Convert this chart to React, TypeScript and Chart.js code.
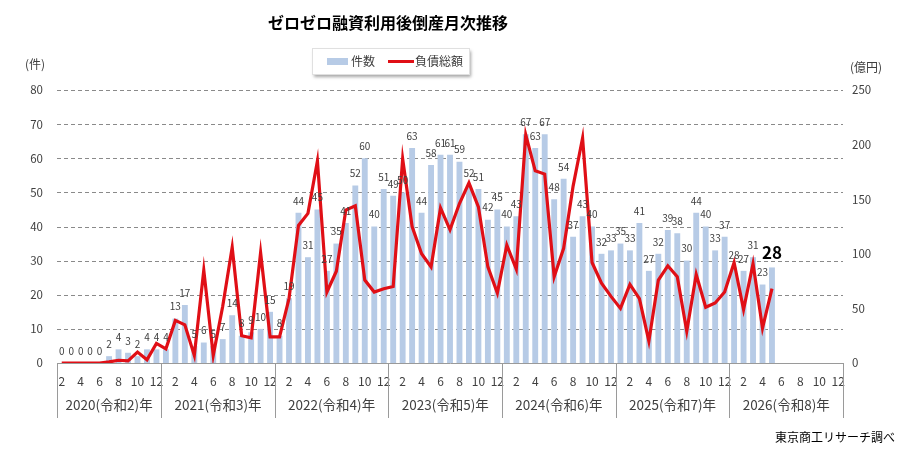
import React, { useEffect, useRef } from 'react';
import { Chart, registerables } from 'chart.js';

Chart.register(...registerables);

// ---- data ----
const TITLE = 'ゼロゼロ融資利用後倒産月次推移';
const years = ['2020(令和2)年', '2021(令和3)年', '2022(令和4)年', '2023(令和5)年', '2024(令和6)年', '2025(令和7)年', '2026(令和8)年'];
const firstMonthOfYear = [2, 1, 1, 1, 1, 1, 1];

// 件数 (bars, left axis)
const count2020 = [0, 0, 0, 0, 0, 2, 4, 3, 2, 4, 4];
const count2021 = [4, 13, 17, 5, 6, 5, 7, 14, 8, 9, 10, 15];
const count2022 = [8, 19, 44, 31, 45, 27, 35, 41, 52, 60, 40, 51];
const count2023 = [49, 50, 63, 44, 58, 61, 61, 59, 52, 51, 42, 45];
const count2024 = [40, 43, 67, 63, 67, 48, 54, 37, 43, 40, 32, 33];
const count2025 = [35, 33, 41, 27, 32, 39, 38, 30, 44, 40, 33, 37];
const count2026 = [28, 27, 31, 23, 28, null, null, null, null, null, null, null];

// 負債総額 (line, right axis, 億円)
const debt2020 = [0, 0, 0, 0, 0, 1, 2.5, 2, 10, 3, 18];
const debt2021 = [13, 39, 35, 7, 85, 7, 52, 106, 25, 23, 101, 24];
const debt2022 = [24, 59, 126, 137, 185, 65, 84, 140, 144, 76, 65, 68];
const debt2023 = [70, 187, 125, 100, 88, 142, 122, 146, 165, 143, 88, 64];
const debt2024 = [108, 86, 209, 176, 173, 79, 105, 162, 206, 92, 73, 61];
const debt2025 = [50, 72, 59, 20, 76, 89, 79, 29, 81, 51, 55, 65];
const debt2026 = [92, 49, 91, 32, 68, null, null, null, null, null, null, null];

const leftTicks = [0, 10, 20, 30, 40, 50, 60, 70, 80];
const rightTicks = [0, 50, 100, 150, 200, 250];
const LEFT_UNIT = '(件)';
const RIGHT_UNIT = '(億円)';
const BAR_LABEL = '件数';
const LINE_LABEL = '負債総額';
const SOURCE = '東京商工リサーチ調べ';

const BAR_COLOR = '#b7cbe6';
const LINE_COLOR = '#e00f16';
const TEXT = '#404040';
const FONT = '"Noto Sans CJK JP", "Noto Sans", sans-serif';

const counts = [...count2020, ...count2021, ...count2022, ...count2023, ...count2024, ...count2025, ...count2026];
const debts = [...debt2020, ...debt2021, ...debt2022, ...debt2023, ...debt2024, ...debt2025, ...debt2026];

// categories: month numbers, grouped by year
const yearMonths: number[][] = years.map((_, yi) => {
  const arr: number[] = [];
  for (let m = firstMonthOfYear[yi]; m <= 12; m++) arr.push(m);
  return arr;
});
const categories: string[] = [];
yearMonths.forEach((ms, yi) => ms.forEach((m) => categories.push(years[yi].slice(0, 4) + '-' + m)));
const monthOf = (i: number) => Number(categories[i].split('-')[1]);

const overlayPlugin = {
  id: 'overlay',
  beforeDatasetsDraw(chart: any) {
    const ctx = chart.ctx as CanvasRenderingContext2D;
    const y = chart.scales.y;
    const area = chart.chartArea;
    ctx.save();
    ctx.strokeStyle = '#8a8a8a';
    ctx.lineWidth = 1;
    leftTicks.forEach((v) => {
      if (v === 0) return;
      const py = Math.round(y.getPixelForValue(v)) + 0.5;
      ctx.setLineDash([4, 3]);
      ctx.beginPath();
      ctx.moveTo(area.left, py);
      ctx.lineTo(area.right, py);
      ctx.stroke();
    });
    ctx.restore();
  },
  afterDraw(chart: any) {
    const ctx = chart.ctx as CanvasRenderingContext2D;
    const x = chart.scales.x;
    const area = chart.chartArea;
    const n = categories.length;
    const w = (x.right - x.left) / n;
    ctx.save();

    // title
    ctx.fillStyle = '#000';
    ctx.font = `bold 16px ${FONT}`;
    ctx.textAlign = 'center';
    ctx.textBaseline = 'middle';
    ctx.fillText(TITLE, 388, 23);

    // legend box
    ctx.save();
    ctx.shadowColor = 'rgba(0,0,0,0.35)';
    ctx.shadowOffsetX = 2;
    ctx.shadowOffsetY = 3;
    ctx.shadowBlur = 3;
    ctx.fillStyle = '#fff';
    ctx.fillRect(312, 48, 157, 26);
    ctx.restore();
    ctx.strokeStyle = '#e0e0e0';
    ctx.lineWidth = 1;
    ctx.strokeRect(312.5, 48.5, 157, 26);
    ctx.fillStyle = BAR_COLOR;
    ctx.fillRect(327, 58, 21, 7);
    ctx.strokeStyle = LINE_COLOR;
    ctx.lineWidth = 3;
    ctx.beginPath();
    ctx.moveTo(388, 61.5);
    ctx.lineTo(414, 61.5);
    ctx.stroke();
    ctx.fillStyle = TEXT;
    ctx.font = `12px ${FONT}`;
    ctx.textAlign = 'left';
    ctx.fillText(BAR_LABEL, 351, 61);
    ctx.fillText(LINE_LABEL, 415, 61);

    // axis units
    ctx.font = `12px ${FONT}`;
    ctx.textAlign = 'left';
    ctx.fillText(LEFT_UNIT, 25, 64);
    ctx.fillText(RIGHT_UNIT, 850, 67);

    // year dividers + labels
    ctx.strokeStyle = '#9a9a9a';
    ctx.lineWidth = 1;
    let start = 0;
    ctx.font = `13.5px ${FONT}`;
    ctx.textAlign = 'center';
    ctx.fillStyle = TEXT;
    yearMonths.forEach((ms, yi) => {
      const x0 = x.getPixelForValue(start) - w / 2;
      const x1 = x.getPixelForValue(start + ms.length - 1) + w / 2;
      ctx.beginPath();
      ctx.moveTo(Math.round(x0) + 0.5, area.bottom);
      ctx.lineTo(Math.round(x0) + 0.5, area.bottom + 55);
      ctx.stroke();
      if (yi === yearMonths.length - 1) {
        ctx.beginPath();
        ctx.moveTo(Math.round(x1) + 0.5, area.bottom);
        ctx.lineTo(Math.round(x1) + 0.5, area.bottom + 55);
        ctx.stroke();
      }
      ctx.fillText(years[yi], (x0 + x1) / 2, area.bottom + 42);
      start += ms.length;
    });

    // source
    ctx.font = `12px ${FONT}`;
    ctx.textAlign = 'right';
    ctx.fillStyle = '#000';
    ctx.fillText(SOURCE, 895, 437);
    ctx.restore();
  },
  afterDatasetsDraw(chart: any) {
    const ctx = chart.ctx as CanvasRenderingContext2D;
    const meta = chart.getDatasetMeta(0);
    let last = -1;
    counts.forEach((v, i) => { if (v !== null) last = i; });
    ctx.save();
    ctx.textAlign = 'center';
    ctx.textBaseline = 'middle';
    meta.data.forEach((el: any, i: number) => {
      const v = counts[i];
      if (v === null || v === undefined) return;
      if (i === last) {
        ctx.font = `bold 17px ${FONT}`;
        ctx.fillStyle = '#000';
        ctx.fillText(String(v), el.x, el.y - 15);
      } else {
        ctx.font = `10px ${FONT}`;
        ctx.fillStyle = TEXT;
        ctx.fillText(String(v), el.x, el.y - 12);
      }
    });
    ctx.restore();
  },
};

export default function App() {
  const ref = useRef<HTMLCanvasElement | null>(null);
  useEffect(() => {
    if (!ref.current) return;
    const chart = new Chart(ref.current, {
      type: 'bar',
      data: {
        labels: categories,
        datasets: [
          {
            type: 'bar',
            label: BAR_LABEL,
            data: counts as any,
            backgroundColor: BAR_COLOR,
            yAxisID: 'y',
            barPercentage: 0.62,
            categoryPercentage: 1,
            order: 2,
          },
          {
            type: 'line',
            label: LINE_LABEL,
            data: debts as any,
            borderColor: LINE_COLOR,
            borderWidth: 3.2,
            pointRadius: 0,
            tension: 0,
            yAxisID: 'y1',
            order: 1,
          } as any,
        ],
      },
      options: {
        animation: false,
        responsive: false,
        layout: { padding: { top: 90, left: 0, right: 0, bottom: 0 } },
        plugins: {
          legend: { display: false },
          title: { display: false },
          tooltip: { enabled: false },
        },
        scales: {
          x: {
            offset: true,
            grid: { display: false },
            border: { display: true, color: '#9a9a9a' },
            ticks: {
              autoSkip: false,
              maxRotation: 0,
              minRotation: 0,
              padding: 3,
              color: TEXT,
              font: { family: FONT, size: 12 },
              callback: (_v: any, i: number) => (monthOf(i) % 2 === 0 ? String(monthOf(i)) : ''),
            },
            afterFit: (s: any) => { s.height = 92; },
          },
          y: {
            position: 'left',
            min: 0,
            max: 80,
            afterBuildTicks: (s: any) => { s.ticks = leftTicks.map((v) => ({ value: v })); },
            grid: { display: false, drawTicks: false },
            border: { display: false },
            ticks: { padding: 14, color: TEXT, font: { family: FONT, size: 11.5 } },
            afterFit: (s: any) => { s.width = 57; },
          },
          y1: {
            position: 'right',
            min: 0,
            max: 250,
            afterBuildTicks: (s: any) => { s.ticks = rightTicks.map((v) => ({ value: v })); },
            grid: { display: false, drawTicks: false },
            border: { display: false },
            ticks: { padding: 9, color: TEXT, font: { family: FONT, size: 11.5 } },
            afterFit: (s: any) => { s.width = 69; },
          },
        },
      } as any,
      plugins: [overlayPlugin],
    });
    return () => chart.destroy();
  }, []);
  return (
    <div style={{ position: 'fixed', left: 0, top: 0, width: 912, height: 455, background: '#fff' }}>
      <canvas ref={ref} width={912} height={455} style={{ width: 912, height: 455, display: 'block' }} />
    </div>
  );
}
